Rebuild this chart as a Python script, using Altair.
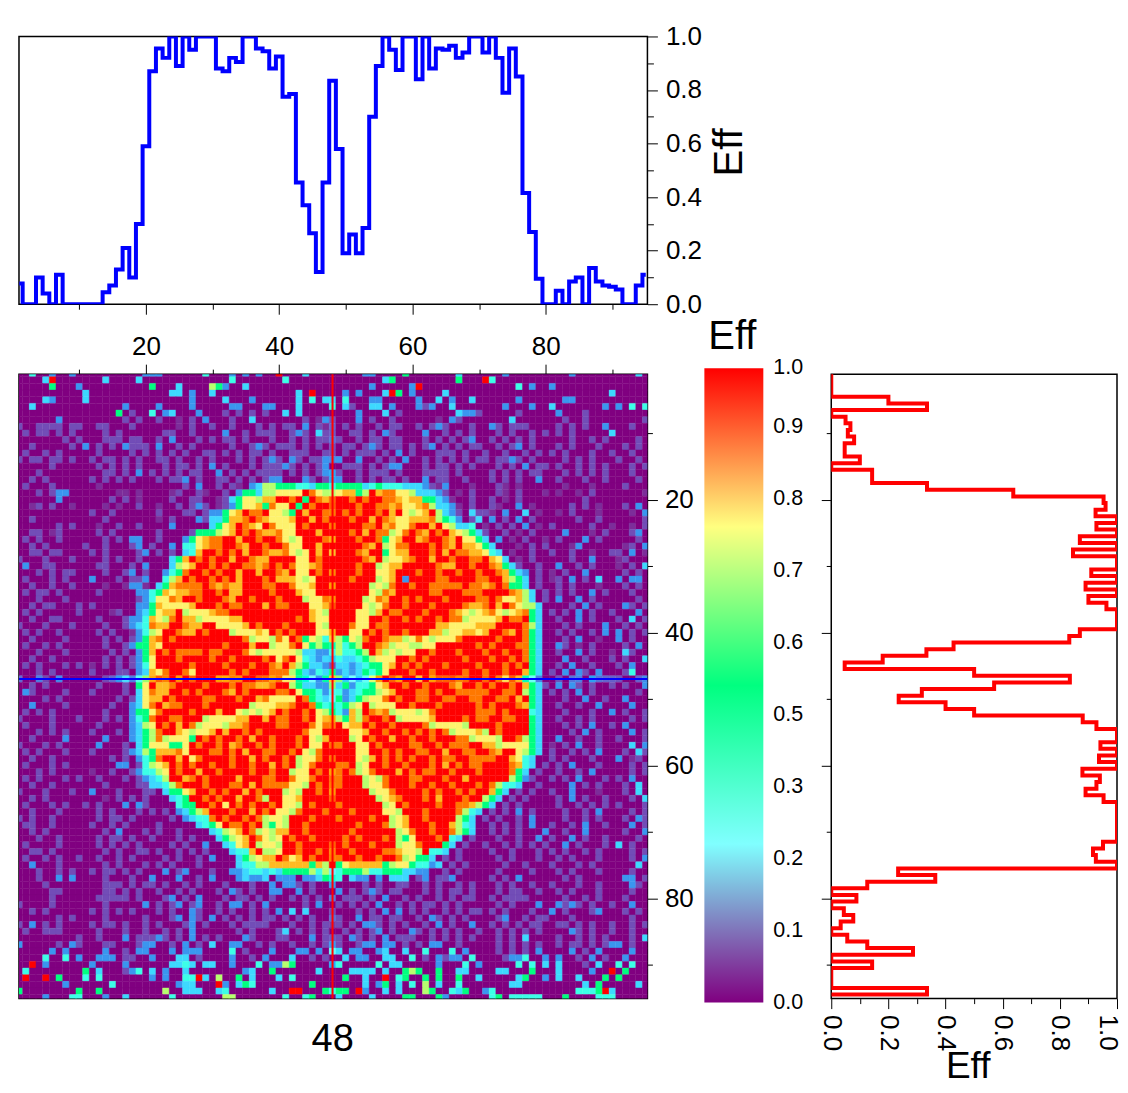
import altair as alt
import pandas as pd

alt.data_transformers.disable_max_rows()

# ---- profile along the blue cursor (row 47), columns 1..95
blue_eff = [.077,0,0,.10,.04,0,.11,0,0,0,0,0,0,.045,.07,.13,.21,.10,.30,.59,
            .87,.955,.92,1,.89,1,.95,1,1,1,.88,.87,.92,.905,1,1,.955,.945,.88,.925,
            .775,.785,.455,.37,.265,.12,.455,.835,.58,.19,.26,.19,.285,.70,.89,1,.95,.875,1,1,
            .84,1,.88,.955,.95,.965,.92,.94,1,1,.94,1,.92,.79,.955,.85,.415,.27,.095,0,
            0,.05,0,.085,.10,0,.135,.085,.07,.065,.055,0,0,.07,.11]
# ---- profile along the red cursor (column 48), rows 1..95
red_eff = [0,0,0,0,.2,.335,0,.05,.067,.058,.08,.047,.047,.10,0,.143,.143,.335,.637,.953,
           .96,.925,1,.928,1,.87,1,.846,1,1,.91,1,.89,1,.90,.963,1,1,1,.87,
           .833,.428,.333,.18,.047,.50,.835,.57,.317,.236,.40,.50,.88,.928,1,1,.942,1,.937,1,
           .879,.94,.928,.89,.953,1,1,1,1,1,1,.951,.916,.926,1,.234,.364,.126,0,.088,
           0,.044,.077,.033,0,.056,.126,.286,0,.143,0,0,0,.335,0]

# ---- heat map: one character per cell, ten columns per group
levels = {".":0,"-":.02,"+":.045,"b":.12,"c":.2,"t":.33,"g":.5,"l":.63,"y":.77,"o":.85,"n":.93,"r":1.0}
cells = [
"..t..b..b. .........b bb......t. ..b.b.b..r ...c...... ..bb....g. ......c... ...b...... ...b...... ...c.",
"....cr.... ...c....c. .......... ..t....... t......... .....cg... ......g... rt........ .......... .....",
".....g...b .......... g...c....l gb..c..... .......... ...b.....b r......... .....t.b.. b......... .....",
".......... c......... ...cc.b..c .......... ..c.r....b .b...crg.b ....c..... .......... .........c .....",
"....cb.... c......... ......b... .c...b.... ..c.t.cc.t ...bb..... b..c.b..c. .....b.... ..bb...... .....",
"..c....... ......b... .b....b... ..bb...bb. ..c....c.c +..cc.b... b+b..c.... ...b...b.. c.......b. b.t.t",
".......... .....g.+.. t.bc...b.. .+.+.+.+.. c.c....... .b...c.+.. ......cbb+ .....+.... .b...+.... .....",
"......b... ......+.+. .+..-.+.b. ..+..c.... ...+.-b... .b.+..+... ...-.b+... ....c..... ..+..+.... ....+",
"+..++++.++ ..++...+.. ....-.+..+ ..+...+.+. ++.b.+-..+ .+..+.++.. +.+b+...+. .b+.+++... .+.+.+..b. ..+..",
".+.++.+.+. ...+.+.... ..++..+... .b..+.+++. .+b+.c++.. ++.+.b+... .b..+.+.+. ..+.+..+.+ .+.+.....c. .....",
".......+.+ ...+++.++. .+.b...+.+ .++.+...+. .+.+.++.+. .+.++.++.. .+.+.+.+b. .+.+.+.+.. ...+..+.+. ...+.",
"..+.....+. b.+.+.b+++ .b..+.+... ..+..+b+.+ ++.+.+.+.+ +.+b+.++.+ .+b.+.+.++ ..+.+b.+.. .+.+...+.. .+.+.",
".+..+.+... ..+....+.+ .+.+.+..++ .+.+.++.+. .+++..++.+ .+++.+.b.+ ...+++.+.. +..+..+.+. +.+...+..+ ..+..",
"+.++.++.+. .+.++.+.+. .++.+..+.+ ...+.+.+b+ .b+.++bbb. .b..+.+.b. .+.+.+.+.+ +.++b+.+.. ..+.+.+... +..+.",
".....+.... ..+.+.+.+. ..+.++.+.b .+...+.+++ b+.+.+bb.+ ++.+.+bb.. .+.++.+.+. ..+.+.b.++ .+..+.+.+. ..+.+",
"...+...... ...++.+.b. +.+.+.++.. b.+.+.++++ .+.+.+b.+. .+.+++.+.. .++++.+... .+.+.+.++. ..+.+.+.+. ..+..",
"..+.+..... .+.+.+.+.. .+.++b.+.. ++.+.+.+bb ...b+.+.b. .+.+.++.+. .b.++..+.. .+.+.+..b. .+...+..+. ...+.",
".+...+.... ..-....... .....+.b.. +.+-.bcllg ggttcggggg ggctgtttcc cb+-b...-. ..+-.-.... ..-...-... .+...",
"...+.+bb.. .....--.-. ...-+..+-. .+.bggclly yyyrnylyyo oglronnyyl cccb+.-.+. ..+-.+...- .-..-.+... ....-",
"......b... ....+.+.-. ...+..++.. -+cgyyloor rnrgrnoyrr nrnrrnnoyo oggcb-..+. .+.-.+.... .....+.... .....",
"..-+.+..-. ...-.-..+. .-..+.+b+. -+bgyyogny yrgrnrrnrr rnrrnnonyy onlccb-.+. .+-..b.-.. ...+.+.-.. .+.b.",
".......... .+..+..... .+...++.+b bgyornnryy lgrorrnrrn rnrrnroryl yorlcb+.c+ +-.b..c.-. .-.+...-.. ..-.b",
"..+....... ...+...... .-.+...b+c cgoonrnoyy yorrornrrr nrrornoyyo oonlgtb.+c .b.+.b.+.. ....+..+.. ....+",
"......+.+. ..-..+..+. ...b.....c gyornoyrny yyrnrrrorr rrnnronyyn rrorylcct. -.+.+.b.-. +.....+..- ..-.+",
"..++.-+... ..+.+..... .+....+ggg lyornrnoon yyrrrorrrr nrornnlynr nornroylgc +..+.-.+.. ..b...-.+. ..+b.",
".+.+..+... ...+.+.bb. .+...bgyon nrrorrnrrn ylyrrrnrrr rnrrngyorr onrrnoryyg c.b.-.+..- .+...b.+.. ...+.",
"..+.+..... +..+...+b. +..b.ttyon nrrnorrnrr nyyrrorrrr rrnorlynnr rrnrnorooy gc...-.+.+ ...-b..... .-+.b",
"..++.++... .+.+....+b .+.+.ctorr nrnrorrnoo nylyrorrrr rnorrgyoor rrnrornnoo ytc.-..+.. +..+..-..+ +.b.-",
"+...+...+. ...+.+..+. ...cgornrn rrorrnoorr rryyrnrrrr rrnorlyyon rrorrnrrnn royc.-.+.. ...+..b... -+...",
".b..++.... ..++...+.b ...clyorrn rnrrnnonrn rnyyonrrrr rnrrlyoorr rrrnoorrnr rnogc+..+. .b..+.+... -.+.c",
"...+.+.++. ...+..+b.+ ..btgnrrnr nrrorrorrn oryyrnrrrr rnrryyorrr nrrnrrnrrn rrnogcb.+. -.+..b.... .+.+.",
".+...+.+.. .b...+.++b ..tlornrrn rnrorrrnro ooylyrrnrr nrrrlyorbr rrrnnrrrrn nrrolgc.+. -+.b.+.c.. b.bb.",
"..+..+..+. ...-..-bb- .cgonnnnrn onoorrrnnr rnyyorrrrr rrrlylnrrn rrnnnnnrnn onrnggc.+. .+.+...-.. .+.+.",
".+.++.+... ..+.....bb tgoyoonnrr nroorrrrnr rroyyrrrrr rrrylnorrr rrnnrrrnnn rrrrnolc.+ .+.+..b.+. ..+..",
"...+...+.. ........+b tyynorrnrr rnorrnrrrn rrrlyynrrr rrlynorrnr nrrrnrrrrn nrnyyolc.+ .b..b.+... ...+.",
"..+.++...+ .+......bb goyyyyorrr nrnnrrrorn nrrryyorrr rrylynrrnr rrnrrrrnoo nrornyllc. ...+.b.+.. .b+.+",
".+.+.....+ ....-+..bc gyoorlyyyo nnrrrrrrrr rrrroylrrr ryylornnrr rnrrrnoyly onylyongc. +.+.b.+..+ ...b.",
"..+..++... ..+...+bbt oylnroolyy yyoorrrrrr rrnroyynrr ryyrrnrrnr nrrnrnnlyy yyornnrgc. .+..b.+... +.c.+",
"+...+...+. ...+..+bct noorrnoorr yyyyornrrr nrrrrylnrr nyyrnnrrrr rrrooyyyyo oorrrrnlc. ..+.+...b. .+.+.",
".+.+..+... ..+.+..-bt lyrrnoornr rrlyyyoyrn rnrrryyrrr yyrnrnrrnr rroolyyooy orrnorngc. .+.+..+.b. b.+.+",
"..+....+.. ...+.+.+bg onrnrrrrrr rrrrnlyyln yrngyltrlg ylnrrnooly nylyyynrrr rrnrrrngc. ..+.b..-.. b.+..",
".+..+.+... ...+..+bgg oyrrrrrrrr rnrrrorrly ynryglgolt glrrnolyyl lyyrrrrrrn rnrrrnngc. .b+.-.+... .+.b.",
"...+...+.. ....+.+.bg ornrnnnnrn nrrrnylyyy yylccbbglt tglrolylyy rrnrrrnrrr nrrnrrngc. .+..b.+..- .c+..",
"..+..+.... ...+.+.+bg yrrrnrrrrn rrnrrrrnry nrytcbcgtc ctglyyyrrn rnrrrrrnrr rnrrnrngc. ..b..+...+ .+..c",
".+.+...+.+ .-.+.+.+bt yrrrrrnrrr rnrrrnrrno rolgccbtcc bctggyornr nrrrnrrrrn rrrnrnrgc. .+.b..+... +.b..",
"...+.+.... .+...++.bc oynrrnyrrr rrnrnrrrnn nlgcbtctbc bcgtgyrrrn rrnrrrrnrr nrrnrrogc. +.b.b+.b.. .+t..",
"..",
"..+.+..... ..+...+.gy roonrrrrnr rrnrnnoonr rlgccbbtcg bttgyorrnr rnrrrnorrn rnrrnrogc+ .b.b+.+..+ .+..b",
".b+....+.. .+....+.cy noorrnrnrr rnornrrrrn nryggtbbtb ctgglyorrr nnrnrrnnnn nrrnnrlgc. +.+.b.+... ...+.",
"....+.+... .....+.+cy oornrrrrnn rrrnrronyy yyrngtctgb cglyynrnrr nnrrnnrrnn rrnnrorgc. ..+..b..+. .b...",
"..b....+.. ....+..bcy nronnrrrnr rrrrrlyyyo onrrngtctg lyrlyyyrrn rrrnrrrrrn rnrrrnogc. .+..+..b.. ..b..",
".+.+.+.... ...+...bgg ynrrrrnrrr orrylylyor nrrnrylctb olrnonlyyy lynrrrrrrn nnrnrrrtc. ..+...+..b .+..+",
"+....+...+ ...+.+.btg nrrnnrrrly yyyoorrorn nrrnryonlg olnrrnrlyy yyorrrrnrn nrrnnrrgc. .+..+.+... ..+.+",
".+...+.... ..+....bcl yrnrornlyy yloonrrrrn nrrrnynrry oornrrnrrr rnlyyyylrr rrnrrrrgc. ..+.+.b..+ .b...",
"...+.+.+.. .+...+.bcg lnrroylyyo rorrnrnrrr rrrnyyrnrr yyorrnrrnr nrnrnlyyyo lrnrrrrgc. ...+.b.+.. ..b.+",
"..+....b.. ...b...bcg lnlyyygrnr nrrnrorrnr rrnrylorrr lyrnrrorrn rrnrrrnnly yylrrnlgc. .b..+..+.. +...+",
"+...+.+... ..b...+.cg yyyggyrnrr nronrrnrnr rrnryyrrnr ryyrnrrrrn nrrnrnnnrr oolyyyygc. -.+.b..+.. ..c.b",
".+.+...+.. .+....+bcl gooonyrrrn nrnrorrnnr rnrylnrrrr ryyrrnrnrr nnrrorrnnr rnorrylgc. +..+.+.b.. .+.c+",
"..+..+.... ....+.+.bt gnrrorynrr rrnrrornrr nrlyynrnrr rylornrnrn rrnrnnrrnn nnrroytc.. +.+...+... b.-+.",
".+...+.+.. .....bb.+t lyornrnrrn rrnrrnrror nrlynrrrnn rlyrrnrrnr rrnrornrnn rrrrnotc.+ .+.b...+.. ..+.+",
"...+.+.... .-..+..+bt tlyrnrrorr nrrrrnrrnr rlyyrnrrnr nlynrrrorn rnnrrnrrrn rrrrngc.+. .+..+.b... ..+.+",
".+.+...+.+ ..+...+.+b ctlrronrnr rrrorrrnnr rnyynrrrnr rrlylnrrrn nrrrnrrorr rrrrlgb+.. +.+.b...+. +.b..",
"..+..+.... ...+....++ cctlnrrrnr rrnnrornnn nyylrnrrnr rrlyynrrrn rrnrrnrrrn rnlttc..+. ...b.+.+.. .+.c.",
"+...+...+. .b...+...+ +.cggyorrn rnrrornrrr lylrrnrrrr rrrlyynrrr rnrnrrnrnr rogc.+.+.. +..b...-.. .+.c.",
"..+.+..... ...-.+.+.+ ...ctgrrnr nrrorrnlrr yyorrrrnrr rrrrlyonrr rnrorrrnrr lgc.+.+... .+.b.+..+. ..+.c",
".+...+.+.. +.+...b.b+ ....tggrrn ryrnrnrrnr yylrnrrrnr rrrrrlyrnr rrrnrrnnol gc.+.+.... .+..+.+.+. +...+",
"..+...+... ..+.+...+. +.+.bcglor rrnrrornry ylnrrrnrrr nrrrryylrr rnrrrrnltc .+.+.b.+.. ..+..+.b.. ..+.+",
"+.+..+.... ..+.++.+.. ...+.bcttn rnrrnrnlyy lrrrnrrrnr rrrnrrlyor rnrrrrlgc. +.+..+.b.. ..+..+.+.. .+.b+",
".++..+.... .+..+.+... .+.....ctg yrnnrnrlgy lrrnrrrrrr rnrrrnlyor rrnrroltc. .+.+.+.b.. +..+.b..+. ..b.+",
"..+.+..... ...+.b...+ .+..+....c tlyornlylo orrnrrrnrr nrrrrrrlyn rrnrrnlgc. .+.+.+...b ..+..b.... .+..b",
"...+..+... ..+.++.+.. +...+.+... cglyornyly rnrrnrrrrn rnrrrnrlgy rrrnrtc.+. ..+..+..b. +..b.+..+. ...+.",
".+....+... ..+.+.+.+. ...+.+..b. .ctyorlyyl rrnrrrrnrn rrrnrrrlyy nrrrgc.+.. +..+.+.+.+ ..b.+...+. c.+..",
"..++.+.... ...+.+..++ .+..+.+.+. ..cttorlly rrnrrnrrrr nrrrrnnoyy lrttc.+... .+..+...+. +.+..+.+.. ..+.+",
".+..+.+..+ ..+..+.+.. ..+.+..+.b ...cglyoor nyornrrrnr rnrrnrrnly ggc.+.+... ..+.+...+. .+.+...+.. ..+.b",
"..b...+... ...+.+...+ .+.+...+.. ...cttlloo oooogolrgy oooooglyyg ttbc.+.+.. ...+..+... +...+.+... ...c.",
"...+..+.+. .+.++.+.+. ..b.+b...+ ..bbcttctc ggggltlltg gglttgggcc bb..+.+... ..+....+.. .+.+...+.. ..+..",
"...+..b.b. ...+...+.. b...b..+.b ...bcbbc.b bb.bbcgct. cbb.b.ccc. +b.++b.... .+.+.b.... ..+.+..... .bb.+",
"....+..... ...+++.+.+ +.+..+.+.. .+...+..b. bb+.+..b.. ..+.+..++. .+.+..+.+. ..+.+..+.. +...+..+.. ..b+.",
".....++... ...++.+.+. .+..+.+... +.b+.+..bb ..b.+...b. +.+b+.++.. .+.+.++.+. ..+.++..+. .+.+...+.. ..+..",
".....+.... ..+++++.+. ..+b.+.b.. .+.++.+.+. .+.+.+.b.+ ++.+.b..+. +..+.+.++. .+.++++... ..+..+.+.. .+...",
"+....+.... ...+.....b .+.+b.+b.. +.bb.+.b.. ...+.b..+. +.+.b..+.+ .++.+.+... ..+.+...b. .b+b+.+..+ ..b..",
"..+.+..... .+.+.+.+.. .+.+..b+.. +.+..+.+.b .c.c...+.. .+.+.b.b.+ .+..+.+.++ .+.+...+.. b.+...+b.. .+.+.",
"......+.+. ...+.....+ ...+b.b+.b .+.+.+.++. +.+.+...+. .b.++.++.. +.b+.+.+.. ..+b..+.++ ...+...... ..+..",
"+.b.+.+... .+.++.+..+ .+...+b.+. ..+.++++.. .+..+.+.+. +.bb+.+.+. .+.b.+..b. .+.+.+.++. .++.+.+..+ ..+.+",
".+..+++... ..+...+..+ ..+.+.b... ...+.+...+ c.+.+.+..+ .+.+b.+..b +.+.+.+..+ ..+.+.+.+. ...b+.+..+ ..+..",
".........+ ..+...b.++ +b+.+.b.+. +...b+...+ +...b.+.+. b+.+.b.+++ ..+.+.+.+. ..+.+.c... .+..+.+.+. ..+.c",
"b.....+.b+ ...++...+b b..+.b.+.c ..bb..+.+. .+..+.+.+. .+bb.bb.+. +.bb..+... ..+.+.+.+. .+.++.+.+b b.+..",
".....b.b.. ...b..+.bb ...b.bbb.. ..t.+...b. ..bb.b.cc. bb..bc..c. .t...t.b.. ..+.+.+.b. ...b.+.b.. ..b..",
"....t..t.b ..bbb.++.. b...cc.+.. ..b..+.b.. .c..+.+..c .bb..cc..t .+.b+bb.t. ...+bbt..b .b..+.b.+. .b...",
"..r.b..... .b....b... ...cctc.cc ..b...t.bb lg......t. ....t.cc.. ...b...t.b .....t.t.c .c...+.c.. t.t..",
".t........ g.c...+bt. c.b..c.... ....bc..g. .....c.... cccc.c..gl g..g..cc.. ..cc...g.. .c....b..r .g...",
".r..r.g... t.t....... b.b..ttrc. l..g.c...c .t.......g ..c..r.tg. .g.g..g..c .....cg..b .c..c...g. g....",
".......b.. ....t..... ....bcc... rb.cgt.... ....g..... ..c.bg.c.t .l.c..t... ....cc.... .....c.g.. ...c.",
"g........g ..g....... ..l..ccc.. ct......c. .rr...gtgg .rb..c.c.. .lg..tcg.. bt........ ....tttgrc .....",
"....b...tt ...b..c... ...t...... .ll....... t..tg...c. ...c....gg ...gb..... .tg.ttttt. ..g....ttt .....",
]

cb_labels = ["0.0","0.1","0.2","0.3","0.5","0.6","0.7","0.8","0.9","1.0"]
cb_rank = [0, 1, 2, 3, 4, 5, 6, 7, 8, 8.82]
cmap_stops = [0, .25, .5, .75, 1]
cmap_colors = ["#800080", "#80ffff", "#00ff80", "#ffff80", "#ff0000"]
FONT = "Liberation Sans"

# ---- build long tables
recs = []
for r, s in enumerate(cells, start=1):
    groups = (s.split(" ") + [""] * 10)[:10]
    line = "".join(g.ljust(10, ".")[:10] for g in groups)[:95]
    for c, ch in enumerate(line, start=1):
        v = levels.get(ch, 0)
        if r == 47:
            v = blue_eff[c - 1]
        if c == 48:
            v = red_eff[r - 1]
        recs.append((c, r, v))
heat_df = pd.DataFrame(recs, columns=["c", "r", "v"])
blue_df = pd.DataFrame({"c": range(1, 96), "eff": blue_eff})
red_df = pd.DataFrame({"r": range(1, 96), "eff": red_eff})

W, H = 629, 625
xdom = [0.95, 95.25]
ydom = [1.1, 95.1]
color_scale = alt.Scale(domain=cmap_stops, range=cmap_colors)

grid_tick = {"condition": {"test": "datum.value % 20 == 0", "value": 10}, "value": 5}
eff_tick = {"condition": {"test": "round(datum.value * 10) % 2 == 0", "value": 10}, "value": 6}
pos_values = list(range(10, 100, 10))
eff_values = [round(i / 10, 1) for i in range(11)]
pos_expr = "datum.value % 20 == 0 ? datum.label : ''"
eff_expr = "round(datum.value * 10) % 2 == 0 ? format(datum.value, '.1f') : ''"
right_expr = "round(datum.value * 10) % 2 == 0 && datum.value < 0.95 ? format(datum.value, '.1f') : ''"

def axis(**k):
    base = dict(title=None, grid=False, domain=False, labelFont=FONT, labelFontSize=26,
                labelColor="black", tickColor="black", tickWidth=1, labelFlush=False, labelOverlap=False)
    base.update(k)
    return alt.Axis(**base)

def label(text, x, y, size=40, **k):
    d = pd.DataFrame({"t": [text]})
    return alt.Chart(d).mark_text(font=FONT, fontSize=size, color="black", **k).encode(
        text="t:N", x=alt.value(x), y=alt.value(y))

# ---- top profile
top_line = alt.Chart(blue_df).mark_line(color="#0000ff", strokeWidth=4, interpolate="step", clip=True).encode(
    x=alt.X("c:Q", scale=alt.Scale(domain=xdom, nice=False, zero=False),
            axis=axis(orient="bottom", values=pos_values, tickSize=grid_tick, labels=False)),
    y=alt.Y("eff:Q", scale=alt.Scale(domain=[0, 1], nice=False),
            axis=axis(orient="right", values=eff_values, tickSize=eff_tick, labelExpr=eff_expr,
                      labelPadding=8, format=".1f")),
)
top = alt.layer(top_line, label("Eff", 724, 116, angle=270, align="center", baseline="alphabetic")).properties(
    width=W, height=268)

# ---- heat map
hm = alt.Chart(heat_df).transform_calculate(
    x0="datum.c-0.5", x1="datum.c+0.5", y0="datum.r-0.5", y1="datum.r+0.5"
).mark_rect(clip=True, strokeWidth=0.4).encode(
    x=alt.X("x0:Q", scale=alt.Scale(domain=xdom, nice=False, zero=False),
            axis=axis(orient="top", values=pos_values, tickSize=grid_tick, labelExpr=pos_expr, labelPadding=5)),
    x2="x1:Q",
    y=alt.Y("y0:Q", scale=alt.Scale(domain=ydom, nice=False, zero=False, reverse=True),
            axis=axis(orient="right", values=pos_values, tickSize=grid_tick, labelExpr=pos_expr, labelPadding=7)),
    y2="y1:Q",
    color=alt.Color("v:Q", scale=color_scale, legend=None),
    stroke=alt.Stroke("v:Q", scale=color_scale, legend=None),
)
vline = alt.Chart(pd.DataFrame({"c": [48]})).mark_rule(color="#ff0000", strokeWidth=2).encode(x="c:Q")
hline = alt.Chart(pd.DataFrame({"r": [47]})).mark_rule(color="#0000ff", strokeWidth=2).encode(y="r:Q")
heat = alt.layer(hm, vline, hline, label("48", 314, 677, size=38, align="center", baseline="alphabetic")).properties(
    width=W, height=H)

# ---- colour bar
bar = alt.Chart(pd.DataFrame({"a": [1]})).mark_rect(
    color=alt.LinearGradient(gradient="linear", x1=0, x2=0, y1=1, y2=0,
        stops=[alt.GradientStop(color=col, offset=o) for col, o in zip(cmap_colors, cmap_stops)])
).encode(x=alt.value(0), x2=alt.value(59), y=alt.value(-6), y2=alt.value(629))
bar_text = alt.Chart(pd.DataFrame({"rank": cb_rank, "lab": cb_labels})).mark_text(
    font=FONT, fontSize=21.5, color="black", align="left", baseline="middle"
).encode(
    x=alt.value(69),
    y=alt.Y("rank:Q", axis=None, scale=alt.Scale(domain=[0, 8.82], range=[629, -6], nice=False)),
    text="lab:N",
)
cbar = alt.layer(bar, bar_text, label("Eff", 28, -25, align="center", baseline="alphabetic")).properties(
    width=70, height=H, view=alt.ViewConfig(stroke="transparent"))

# ---- right profile
right_line = alt.Chart(red_df).transform_calculate(edge="datum.r-0.5").mark_line(
    color="#ff0000", strokeWidth=4, interpolate="step-before", clip=True
).encode(
    x=alt.X("eff:Q", scale=alt.Scale(domain=[0, 1], nice=False),
            axis=axis(orient="bottom", values=eff_values, tickSize={"condition": eff_tick["condition"], "value": 5},
                      labelExpr=right_expr, labelAngle=90, labelAlign="left", labelBaseline="middle", labelPadding=6)),
    y=alt.Y("edge:Q", scale=alt.Scale(domain=ydom, nice=False, zero=False, reverse=True),
            axis=axis(orient="left", values=pos_values, tickSize=grid_tick, labels=False)),
    order=alt.Order("r:Q"),
)
right = alt.layer(right_line,
                  label("1.0", 277, 641, size=26, angle=90, align="left", baseline="middle"),
                  label("Eff", 137, 704, size=37, align="center", baseline="alphabetic")).properties(
    width=286, height=H)

row = alt.hconcat(heat, cbar, right, spacing=57, bounds="flush")
chart = alt.vconcat(top, row, spacing=70, bounds="flush").properties(
    padding={"left": 9, "top": 14, "right": -11, "bottom": -8}
).configure_view(stroke="black", strokeWidth=1.5).resolve_scale(color="independent")

chart.save("out.html", embed_options={"renderer": "svg", "actions": False})
